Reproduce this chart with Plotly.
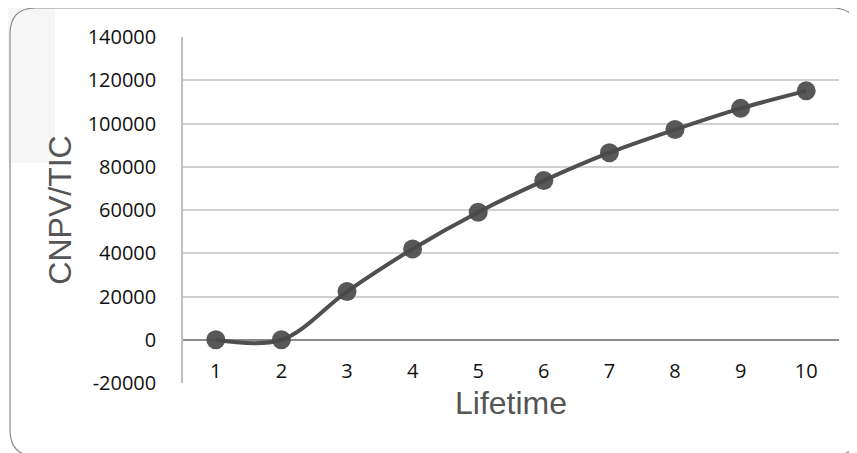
import plotly.graph_objects as go

# ---- data ----
lifetime = [1, 2, 3, 4, 5, 6, 7, 8, 9, 10]
cnpv_tic = [0, 0, 22300, 42000, 59000, 73600, 86500, 97200, 107000, 115100]
y_tickvals = [-20000, 0, 20000, 40000, 60000, 80000, 100000, 120000, 140000]
y_ticktext = ["-20000", "0", "20000", "40000", "60000", "80000", "100000", "120000", "140000"]
x_ticktext = ["1", "2", "3", "4", "5", "6", "7", "8", "9", "10"]

W, H = 857, 453
OFF = 8  # page body margin offset
# target plot area in page pixels: x 183..839, y 37..383
L, T = 183 - OFF, 37 - OFF
R = W - (839 - OFF)
B = H - (383 - OFF)
PW, PH = W - L - R, H - T - B


def px(x):  # page px -> paper x
    return (x - OFF - L) / PW


def py(y):  # page px -> paper y
    return (H - B - (y - OFF)) / PH


# rounded outer frame (page pixel coords)
x0, x1, y0, y1, r = 10, 858, 8, 456, 26
path = (
    f"M {px(x0)},{py(y0 + r)} "
    f"Q {px(x0)},{py(y0)} {px(x0 + r)},{py(y0)} "
    f"L {px(x1 - r)},{py(y0)} "
    f"Q {px(x1)},{py(y0)} {px(x1)},{py(y0 + r)} "
    f"L {px(x1)},{py(y1 - r)} "
    f"Q {px(x1)},{py(y1)} {px(x1 - r)},{py(y1)} "
    f"L {px(x0 + r)},{py(y1)} "
    f"Q {px(x0)},{py(y1)} {px(x0)},{py(y1 - r)} Z"
)

fig = go.Figure()
fig.add_trace(go.Scatter(
    x=lifetime, y=cnpv_tic,
    mode="lines+markers",
    line=dict(color="#4f4f4f", width=4, shape="spline", smoothing=1.0),
    marker=dict(size=19, color="#4a4a4a", opacity=0.92),
    showlegend=False,
    cliponaxis=False,
))

tick_font = dict(family="Open Sans, Noto Sans, sans-serif", size=20, color="#111111")
title_font = dict(family="Liberation Sans, Arial, sans-serif", size=32, color="#555555")

fig.update_layout(
    width=W, height=H,
    margin=dict(l=L, r=R, t=T, b=B, pad=0, autoexpand=False),
    paper_bgcolor="white",
    plot_bgcolor="rgba(0,0,0,0)",
    xaxis=dict(
        range=[0.5, 10.5],
        tickvals=lifetime, ticktext=x_ticktext,
        anchor="free", position=0.125,
        showgrid=False, zeroline=False, showline=False,
        ticks="", tickfont=tick_font, ticklabelstandoff=17,
        title=dict(text="Lifetime", font=title_font, standoff=8),
    ),
    yaxis=dict(
        range=[-20000, 140000],
        tickvals=y_tickvals, ticktext=y_ticktext,
        showgrid=True, gridcolor="#d0d0d0", gridwidth=1.5,
        zeroline=True, zerolinecolor="#8a8a8a", zerolinewidth=1.5,
        showline=True, linecolor="#bfbfbf", linewidth=1.5,
        ticks="", tickfont=tick_font, ticklabelstandoff=21,
        title=dict(text="CNPV/TIC", font=title_font, standoff=6),
    ),
    shapes=[
        dict(type="rect", xref="paper", yref="paper", layer="below",
             x0=px(0), x1=px(55), y0=py(163), y1=py(0),
             line=dict(width=0), fillcolor="#f6f6f6"),
        dict(type="path", xref="paper", yref="paper", layer="below",
             path=path, line=dict(color="#8c8c8c", width=1.2), fillcolor="rgba(0,0,0,0)"),
    ],
)

fig.write_html("out.html")
